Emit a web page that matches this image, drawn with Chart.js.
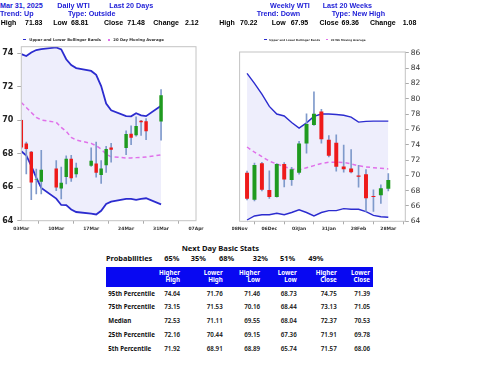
<!DOCTYPE html>
<html lang="en">
<head>
<meta charset="UTF-8">
<title>WTI Daily / Weekly</title>
<script src="https://cdn.jsdelivr.net/npm/chart.js@4.4.1/dist/chart.umd.min.js"></script>
<style>
  body { margin: 0; background: #fff; }
  #page { position: relative; width: 480px; height: 371px; overflow: hidden; font-family: "DejaVu Sans", Verdana, sans-serif; }
  .t { position: absolute; white-space: nowrap; line-height: 10px; }
  .hd { font-family: "Liberation Sans", Arial, sans-serif; font-size: 7.2px; font-weight: bold; color: #000; }
  .blue { color: #1c1cd6; }
  .lg { font-weight: bold; color: #333; }
  .mk { position: absolute; }
  .tb { font-family: "Noto Sans", "Open Sans", sans-serif; font-weight: bold; color: #111; }
  canvas { position: absolute; }
  #band { position: absolute; left: 106px; top: 267.3px; width: 267.3px; height: 19.4px; background: #0808f2; }
</style>
</head>
<body>
<div id="page">
  <canvas id="daily" width="210" height="190" style="left:0;top:44px"></canvas>
  <canvas id="weekly" width="200" height="190" style="left:232px;top:44px"></canvas>
  <div id="band"></div>
</div>

<script>
// ---- daily chart (x = days after 03Mar) ----
const dayX    = [0, 1, 2, 3, 4, 7, 8, 9, 10, 11, 14, 15, 16, 17, 18, 21, 22, 23, 24, 25, 28];
const dOpen   = [70.0, 68.6, 68.1, 66.45, 66.35, 67.1, 65.95, 66.63, 67.68, 66.8, 67.3, 67.4, 66.75, 67.34, 68.36, 68.36, 69.18, 69.12, 69.96, 69.92, 69.95];
const dClose  = [68.4, 68.3, 66.3, 66.45, 67.03, 66.0, 66.25, 67.68, 66.55, 67.15, 67.57, 66.88, 67.1, 68.27, 68.26, 69.16, 68.98, 69.64, 69.9, 69.36, 71.48];
const dHigh   = [70.05, 68.7, 68.15, 67.09, 68.2, 67.6, 67.2, 67.87, 67.9, 67.45, 68.35, 68.7, 67.6, 68.44, 68.62, 69.37, 69.67, 70.21, 70.0, 70.1, 71.83];
const dLow    = [68.3, 66.8, 65.25, 65.6, 65.6, 65.8, 65.3, 66.2, 66.35, 66.6, 67.25, 66.6, 66.23, 66.88, 67.5, 67.95, 68.55, 69.05, 69.1, 68.85, 68.81];
const dUpper  = [73.96, 73.84, 74.05, 74.2, 74.26, 74.36, 74.24, 73.65, 73.3, 73.12, 72.95, 72.72, 72.05, 71.0, 70.6, 70.25, 70.24, 70.42, 70.3, 70.25, 70.87];
const dLower  = [68.15, 67.9, 67.28, 66.57, 65.96, 65.32, 64.94, 64.93, 64.67, 64.52, 64.42, 64.37, 64.59, 65.0, 65.14, 65.3, 65.3, 65.24, 65.3, 65.34, 64.98];
const dMA     = [71.07, 70.77, 70.47, 70.18, 70.02, 69.88, 69.58, 69.34, 68.98, 68.82, 68.62, 68.48, 68.28, 67.98, 67.82, 67.75, 67.75, 67.77, 67.79, 67.8, 67.94];
const dTickX  = [0, 7, 14, 21, 28, 35];
const dTickLabels = ['03Mar', '10Mar', '17Mar', '24Mar', '31Mar', '07Apr'];
const dTickY  = [64, 66, 68, 70, 72, 74];

// ---- weekly chart (x = days after 08Nov) ----
const weekX   = [7, 14, 21, 28, 35, 42, 49, 56, 63, 70, 77, 84, 91, 98, 105, 112, 119, 126, 133, 140];
const wOpen   = [70.3, 66.85, 71.55, 68.05, 67.2, 71.45, 69.45, 70.38, 74.2, 76.6, 78.3, 74.6, 74.2, 71.1, 70.85, 69.95, 70.1, 67.25, 67.45, 68.3];
const wClose  = [67.0, 71.3, 68.15, 67.2, 71.45, 69.5, 70.75, 74.1, 76.65, 78.0, 74.75, 72.6, 71.15, 70.85, 70.45, 69.85, 67.05, 67.2, 68.28, 69.36];
const wHigh   = [70.55, 71.6, 71.7, 70.6, 71.55, 71.65, 71.05, 74.45, 78.02, 80.9, 78.6, 75.2, 75.3, 73.95, 73.35, 71.3, 70.75, 68.1, 68.75, 70.22];
const wLow    = [66.8, 66.65, 67.95, 67.0, 67.15, 68.48, 68.7, 70.15, 72.9, 76.5, 74.2, 72.4, 70.55, 70.4, 70.3, 68.45, 65.3, 65.3, 66.35, 67.95];
const wUpper  = [83.3, 82.0, 80.6, 79.0, 78.0, 77.75, 76.9, 76.16, 76.85, 77.7, 78.0, 78.0, 77.95, 77.85, 77.6, 76.95, 77.05, 77.08, 77.08, 77.08];
const wLower  = [64.17, 64.7, 64.85, 64.85, 65.05, 64.85, 65.15, 65.5, 65.15, 64.7, 65.15, 65.39, 65.39, 65.65, 65.57, 65.57, 65.26, 64.78, 64.6, 64.52];
const wMA     = [73.7, 73.02, 72.45, 71.84, 71.49, 71.14, 70.84, 70.71, 71.0, 71.27, 71.55, 71.7, 71.72, 71.68, 71.5, 71.25, 71.1, 71.0, 70.92, 70.84];
const wTickX  = [0, 28, 56, 84, 112, 140];
const wTickLabels = ['08Nov', '06Dec', '03Jan', '31Jan', '28Feb', '28Mar'];
const wTickY  = [64, 66, 68, 70, 72, 74, 76, 78, 80, 82, 84, 86];

// ---- stats table ----
const probs    = ['65%', '35%', '68%', '32%', '51%', '49%'];
const statCols = [['Higher', 'High'], ['Lower', 'High'], ['Higher', 'Low'], ['Lower', 'Low'], ['Higher', 'Close'], ['Lower', 'Close']];
const statRows = ['95th Percentile', '75th Percentile', 'Median', '25th Percentile', '5th Percentile'];
const p95 = [74.64, 71.76, 71.46, 68.73, 74.75, 71.39];
const p75 = [73.15, 71.53, 70.16, 68.44, 73.13, 71.05];
const p50 = [72.53, 71.11, 69.55, 68.04, 72.37, 70.53];
const p25 = [72.16, 70.44, 69.15, 67.36, 71.91, 69.78];
const p05 = [71.92, 68.91, 68.89, 65.74, 71.57, 68.06];

const GREEN = '#1f9a1f', RED = '#ee1a1a', WICK = '#7f9acb', BLUE = '#2c2ccf', PINK = '#e070ea', BAND = '#eeeefc';

// ---- page text ----
const page = document.getElementById('page');
function put(text, x, y, cls, size, extra) {
  const d = document.createElement('div');
  d.className = 't ' + cls;
  d.textContent = text;
  d.style.left = x + 'px';
  d.style.top = (y - 5) + 'px';
  if (size) d.style.fontSize = size + 'px';
  if (extra) Object.assign(d.style, extra);
  page.appendChild(d);
  return d;
}
function mark(x, y, w, h, col) {
  const m = document.createElement('div');
  m.className = 'mk';
  Object.assign(m.style, { left: x + 'px', top: y + 'px', width: w + 'px', height: h + 'px', background: col });
  page.appendChild(m);
}

[[0, 'Mar 31, 2025'], [57.3, 'Daily WTI'], [109.3, 'Last 20 Days'], [270, 'Weekly WTI'], [322.7, 'Last 20 Weeks']]
  .forEach(([x, s]) => put(s, x, 5.8, 'hd blue'));
[[0, 'Trend: Up'], [68, 'Type: Outside'], [256.7, 'Trend: Down'], [331.7, 'Type: New High']]
  .forEach(([x, s]) => put(s, x, 14.3, 'hd blue'));
[[0.7, 'High'], [25, '71.83'], [53.3, 'Low'], [71, '68.81'], [104, 'Close'], [127.3, '71.48'], [153.3, 'Change'], [185, '2.12'],
 [219.3, 'High'], [240, '70.22'], [271.7, 'Low'], [290.7, '67.95'], [319.5, 'Close'], [341.5, '69.36'], [370, 'Change'], [402.7, '1.08']]
  .forEach(([x, s]) => put(s, x, 23.2, 'hd', 7));

// legends
mark(22.7, 38.8, 3.3, 1.6, BLUE);
put('Upper and Lower Bollinger Bands', 29.3, 39.6, 'lg', 3.8);
mark(108.3, 38.8, 1.8, 1.8, PINK);
put('20 Day Moving Average', 113.3, 39.6, 'lg', 3.8);
mark(264, 38.8, 3, 1.5, BLUE);
put('Upper and Lower Bollinger Bands', 269.3, 39.6, 'lg', 2.7);
mark(326, 38.8, 1.6, 1.6, PINK);
put('20 Wk Moving Average', 330.7, 39.6, 'lg', 2.7);

// stats block
put('Next Day Basic Stats', 181.7, 247.7, 'tb', 7.6);
put('Probabilities', 106, 257.7, 'tb', 7.4);
[164.3, 190.7, 219, 252.7, 280, 308.3].forEach((x, i) => put(probs[i], x, 257.7, 'tb', 7.4));
const colRight = [180, 222.7, 260, 296.7, 336.7, 370];
statCols.forEach((c, i) => {
  put(c[0], 0, 273.3, 'tb', 6.2, { left: 'auto', right: (480 - colRight[i]) + 'px', color: '#fff' });
  put(c[1], 0, 280, 'tb', 6.2, { left: 'auto', right: (480 - colRight[i]) + 'px', color: '#fff' });
});
const rowY = [294, 307.3, 321.3, 335, 349];
[p95, p75, p50, p25, p05].forEach((vals, r) => {
  put(statRows[r], 108.3, rowY[r], 'tb', 6.2);
  vals.forEach((v, i) => put(v.toFixed(2), 0, rowY[r], 'tb', 6.2,
    { left: 'auto', right: (480 - colRight[i]) + 'px', fontWeight: '600' }));
});

// ---- charts ----
const frame = {
  id: 'frame',
  afterDraw(c) {
    const a = c.chartArea, g = c.ctx;
    g.save();
    g.strokeStyle = '#c4c4c4';
    g.lineWidth = 1;
    g.strokeRect(a.left, a.top, a.right - a.left, a.bottom - a.top);
    g.restore();
  }
};

// no automatic label padding, chart area is set by layout.padding + fixed axis sizes
function noPad(s) { s.paddingTop = s.paddingBottom = s.paddingLeft = s.paddingRight = 0; }

function candleChart(id, o) {
  const pts = ys => o.x.map((x, i) => ({ x, y: ys[i] }));
  const lineDs = (ys, extra) => Object.assign({ type: 'line', data: pts(ys), pointRadius: 0, tension: 0, fill: false }, extra);
  return new Chart(document.getElementById(id), {
    type: 'bar',
    data: {
      datasets: [
        { data: o.x.map((x, i) => ({ x, y: [o.open[i], o.close[i]] })),
          backgroundColor: o.x.map((x, i) => o.close[i] >= o.open[i] ? GREEN : RED),
          barThickness: o.bodyW, grouped: false, order: 0 },
        { data: o.x.map((x, i) => ({ x, y: [o.low[i], o.high[i]] })),
          backgroundColor: WICK, barThickness: 1, grouped: false, order: 1 },
        lineDs(o.ma, { borderColor: PINK, borderWidth: 1.5, borderDash: [4, 3], order: 2 }),
        lineDs(o.up, { borderColor: BLUE, borderWidth: o.bandW, fill: '+1', backgroundColor: BAND, order: 3 }),
        lineDs(o.lo, { borderColor: BLUE, borderWidth: o.bandW, order: 3 })
      ]
    },
    options: {
      responsive: false,
      animation: false,
      layout: { padding: o.pad },
      plugins: { legend: { display: false }, tooltip: { enabled: false }, filler: { drawTime: 'beforeDatasetsDraw' } },
      scales: {
        x: {
          type: 'linear', min: o.xMin, max: o.xMax, offset: false,
          afterBuildTicks: s => { s.ticks = o.xTicks.map(v => ({ value: v })); },
          afterFit: s => { s.height = o.xH; noPad(s); },
          ticks: { callback: (v, i) => o.xLabels[i], autoSkip: false, maxRotation: 0, padding: 2,
                   color: '#333', font: { family: 'DejaVu Sans', size: 4.5, weight: 'bold' } },
          grid: { drawOnChartArea: false, tickLength: 3, color: '#aaa' },
          border: { display: false }
        },
        y: {
          position: o.yPos, min: o.yMin, max: o.yMax,
          afterBuildTicks: s => { s.ticks = o.yTicks.map(v => ({ value: v })); },
          afterFit: s => { s.width = o.yW; noPad(s); },
          ticks: { padding: o.yPadTick, color: o.yColor, font: { family: 'DejaVu Sans', size: o.yFont, weight: o.yWeight } },
          grid: { drawOnChartArea: false, tickLength: o.yTickLen, color: '#aaa' },
          border: { display: false }
        }
      }
    },
    plugins: [frame]
  });
}

candleChart('daily', {
  x: dayX, open: dOpen, close: dClose, high: dHigh, low: dLow, up: dUpper, lo: dLower, ma: dMA,
  xMin: 0, xMax: 35, xTicks: dTickX, xLabels: dTickLabels, yTicks: dTickY, yMin: 64, yMax: 74.4,
  yPos: 'left', yW: 21.3, xH: 13.3, pad: { top: 2.7, right: 14, left: 0, bottom: 0 },
  bodyW: 2.8, bandW: 1.8, yFont: 8, yWeight: 'bold', yColor: '#222', yTickLen: 4, yPadTick: 4
});

candleChart('weekly', {
  x: weekX, open: wOpen, close: wClose, high: wHigh, low: wLow, up: wUpper, lo: wLower, ma: wMA,
  xMin: 0, xMax: 156, xTicks: wTickX, xLabels: wTickLabels, yTicks: wTickY, yMin: 64, yMax: 86.1,
  yPos: 'right', yW: 26.7, xH: 12.7, pad: { top: 8, right: 0, left: 7.6, bottom: 0 },
  bodyW: 3.3, bandW: 1.4, yFont: 7.5, yWeight: 'normal', yColor: '#333', yTickLen: 3.5, yPadTick: 2
});
</script>
</body>
</html>
